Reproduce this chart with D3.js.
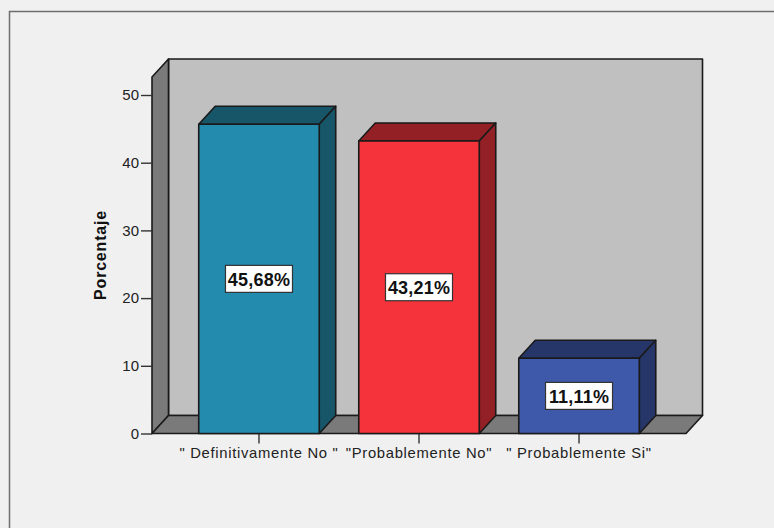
<!DOCTYPE html>
<html><head><meta charset="utf-8">
<script src="https://cdn.jsdelivr.net/npm/d3@7"></script>
<style>html,body{margin:0;padding:0;background:#f0f0f0;overflow:hidden}svg{display:block}text{font-family:"Liberation Sans",Arial,sans-serif}</style>
</head><body><svg id="c" width="774" height="528"></svg>
<script>
const categories = ['" Definitivamente No "', '"Probablemente No"', '" Probablemente Si"'];
const values = [45.68, 43.21, 11.11];
const labels = ['45,68%', '43,21%', '11,11%'];
const frontColors = ['#238bad', '#f4333a', '#3e59a9'];
const sideColors = ['#175669', '#932025', '#263669'];
const yTicks = [0, 10, 20, 30, 40, 50];
const yTitle = 'Porcentaje';

const svg = d3.select('#c');
const L = 152, R = 686, dx = 16.5, dy = -18;
const y = d3.scaleLinear().domain([0, 50]).range([433.5, 95]);
const x = d3.scaleBand().domain(categories).range([L, R]).paddingInner(0.247).paddingOuter(0.292);
const topY = 77;
const stroke = '#1a1a1a';
const poly = (pts, fill, sw = 1.6) => svg.append('path')
  .attr('d', d3.line()(pts) + 'Z').attr('fill', fill).attr('stroke', stroke)
  .attr('stroke-width', sw).attr('stroke-linejoin', 'round');

// outer frame
svg.append('path').attr('d', 'M9.5,528V11.5H774').attr('fill', 'none').attr('stroke', '#6e6e6e').attr('stroke-width', 1.5);

// back wall, side wall, floor
poly([[L + dx, topY + dy], [R + dx, topY + dy], [R + dx, y(0) + dy], [L + dx, y(0) + dy]], '#c0c0c0');
poly([[L, topY], [L + dx, topY + dy], [L + dx, y(0) + dy], [L, y(0)]], '#7a7a7a');
poly([[L, y(0)], [L + dx, y(0) + dy], [R + dx, y(0) + dy], [R, y(0)]], '#7a7a7a');

// axes
const axisY = d3.axisLeft(y).tickValues(yTicks).tickSize(11).tickPadding(2);
const gy = svg.append('g').attr('transform', `translate(${L},0)`).call(axisY);
gy.select('.domain').remove();
gy.selectAll('line').attr('stroke', '#333').attr('stroke-width', 1.4);
gy.selectAll('text').attr('font-size', 15).attr('fill', '#222').attr('font-family', '"Liberation Sans",Arial,sans-serif');

const axisX = d3.axisBottom(x).tickSize(10).tickPadding(4);
const gx = svg.append('g').attr('transform', `translate(0,${y(0)})`).call(axisX);
gx.select('.domain').remove();
gx.selectAll('line').attr('stroke', '#333').attr('stroke-width', 1.4);
gx.selectAll('text').attr('font-size', 14.8).attr('fill', '#222').attr('letter-spacing', '0.7px').attr('font-family', '"Liberation Sans",Arial,sans-serif');

svg.append('text').attr('transform', 'translate(106,255) rotate(-90)').attr('text-anchor', 'middle')
  .attr('font-size', 16).attr('font-weight', 'bold').attr('letter-spacing', '0.8px').attr('fill', '#111').text(yTitle);

// bars
categories.forEach((c, i) => {
  const x0 = x(c), x1 = x0 + x.bandwidth(), t = y(values[i]), b = y(0);
  poly([[x0, t], [x0 + dx, t + dy], [x1 + dx, t + dy], [x1, t]], sideColors[i]);
  poly([[x1, t], [x1 + dx, t + dy], [x1 + dx, b + dy], [x1, b]], sideColors[i]);
  poly([[x0, t], [x1, t], [x1, b], [x0, b]], frontColors[i]);
  const cx = (x0 + x1) / 2, cy = (t + b) / 2;
  const w = 67, h = 27;
  svg.append('rect').attr('x', cx - w / 2).attr('y', cy - h / 2).attr('width', w).attr('height', h)
    .attr('fill', '#fff').attr('stroke', '#333').attr('stroke-width', 1.2);
  svg.append('text').attr('x', cx).attr('y', cy + 7).attr('text-anchor', 'middle')
    .attr('font-size', 18).attr('font-weight', 'bold').attr('letter-spacing', '0.2px').attr('fill', '#111').text(labels[i]);
});
</script></body></html>
